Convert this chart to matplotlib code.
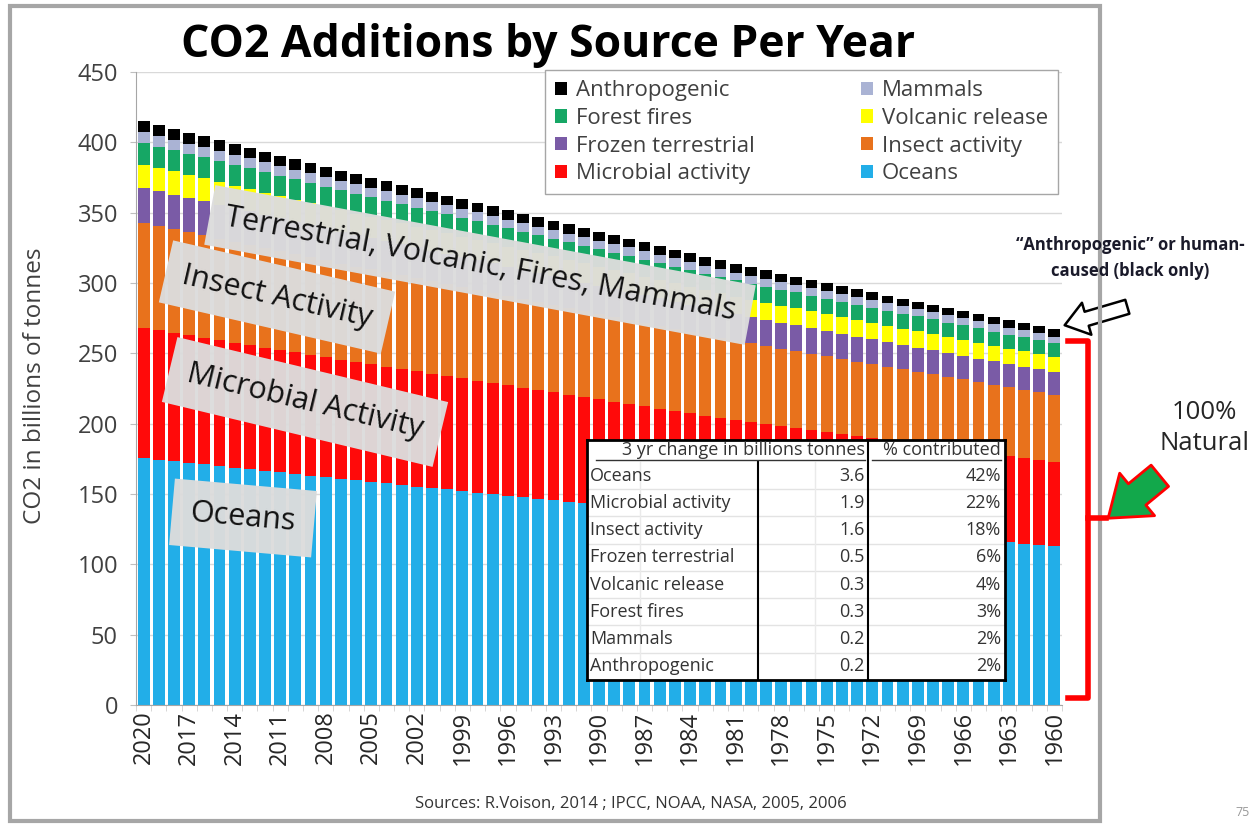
import numpy as np
import matplotlib.pyplot as plt
from matplotlib.patches import Rectangle, FancyArrowPatch
from matplotlib.lines import Line2D

plt.rcParams['font.family'] = ['Open Sans', 'DejaVu Sans']

W, H = 1253, 825

# Data (billions of tonnes), years run 2020 -> 1960
years = list(range(2020, 1959, -1))

oceans = [175.5, 174.4, 173.3, 172.1, 171.0, 169.8, 168.7, 167.6, 166.4, 165.3,
          164.1, 163.0, 161.8, 160.7, 159.6, 158.6, 157.5, 156.4, 155.3, 154.2,
          153.2, 152.1, 151.0, 149.9, 148.8, 147.8, 146.7, 145.6, 144.5, 143.4,
          142.3, 141.2, 140.2, 139.1, 138.0, 136.9, 135.8, 134.8, 133.7, 132.6,
          131.6, 130.6, 129.7, 128.8, 127.8, 126.9, 126.0, 125.0, 124.1, 123.2,
          122.2, 121.3, 120.4, 119.5, 118.5, 117.6, 116.7, 115.7, 114.8, 113.9,
          112.9]
microbial = [92.5, 91.9, 91.3, 90.7, 90.1, 89.5, 88.9, 88.3, 87.7, 87.1,
             86.5, 85.9, 85.3, 84.7, 84.2, 83.6, 83.0, 82.5, 81.9, 81.3,
             80.7, 80.2, 79.6, 79.0, 78.5, 77.9, 77.3, 76.8, 76.2, 75.6,
             75.0, 74.5, 73.9, 73.3, 72.7, 72.2, 71.6, 71.0, 70.5, 69.9,
             69.4, 68.9, 68.4, 67.9, 67.4, 66.9, 66.4, 65.9, 65.4, 64.9,
             64.4, 64.0, 63.5, 63.0, 62.5, 62.0, 61.5, 61.0, 60.5, 60.0,
             59.5]
insect = [74.7, 74.2, 73.7, 73.2, 72.8, 72.3, 71.8, 71.3, 70.8, 70.3,
          69.8, 69.4, 68.9, 68.4, 67.9, 67.5, 67.0, 66.6, 66.1, 65.6,
          65.2, 64.7, 64.3, 63.8, 63.3, 62.9, 62.4, 62.0, 61.5, 61.0,
          60.6, 60.1, 59.7, 59.2, 58.7, 58.3, 57.8, 57.3, 56.9, 56.4,
          56.0, 55.6, 55.2, 54.8, 54.4, 54.0, 53.6, 53.2, 52.8, 52.4,
          52.0, 51.6, 51.2, 50.8, 50.4, 50.0, 49.6, 49.2, 48.9, 48.5,
          48.1]
frozen = [24.9, 24.7, 24.6, 24.4, 24.3, 24.1, 23.9, 23.8, 23.6, 23.4,
          23.3, 23.1, 23.0, 22.8, 22.6, 22.5, 22.3, 22.2, 22.0, 21.9,
          21.7, 21.6, 21.4, 21.3, 21.1, 21.0, 20.8, 20.7, 20.5, 20.3,
          20.2, 20.0, 19.9, 19.7, 19.6, 19.4, 19.3, 19.1, 19.0, 18.8,
          18.7, 18.5, 18.4, 18.3, 18.1, 18.0, 17.9, 17.7, 17.6, 17.5,
          17.3, 17.2, 17.1, 16.9, 16.8, 16.7, 16.5, 16.4, 16.3, 16.2,
          16.0]
volcanic = [16.6, 16.5, 16.4, 16.3, 16.2, 16.1, 16.0, 15.8, 15.7, 15.6,
            15.5, 15.4, 15.3, 15.2, 15.1, 15.0, 14.9, 14.8, 14.7, 14.6,
            14.5, 14.4, 14.3, 14.2, 14.1, 14.0, 13.9, 13.8, 13.7, 13.6,
            13.5, 13.4, 13.3, 13.2, 13.0, 12.9, 12.8, 12.7, 12.6, 12.5,
            12.4, 12.4, 12.3, 12.2, 12.1, 12.0, 11.9, 11.8, 11.7, 11.6,
            11.6, 11.5, 11.4, 11.3, 11.2, 11.1, 11.0, 10.9, 10.9, 10.8,
            10.7]
fires = [15.4, 15.3, 15.2, 15.1, 15.0, 14.9, 14.8, 14.7, 14.6, 14.5,
         14.4, 14.3, 14.2, 14.1, 14.0, 13.9, 13.8, 13.7, 13.6, 13.5,
         13.4, 13.3, 13.2, 13.1, 13.0, 12.9, 12.8, 12.7, 12.6, 12.5,
         12.5, 12.4, 12.3, 12.2, 12.1, 12.0, 11.9, 11.8, 11.7, 11.6,
         11.5, 11.4, 11.3, 11.3, 11.2, 11.1, 11.0, 10.9, 10.9, 10.8,
         10.7, 10.6, 10.5, 10.4, 10.4, 10.3, 10.2, 10.1, 10.0, 10.0,
         9.9]
mammals = [7.5, 7.4, 7.4, 7.3, 7.3, 7.2, 7.2, 7.1, 7.1, 7.0,
           7.0, 6.9, 6.9, 6.8, 6.8, 6.7, 6.7, 6.7, 6.6, 6.6,
           6.5, 6.5, 6.4, 6.4, 6.3, 6.3, 6.2, 6.2, 6.1, 6.1,
           6.1, 6.0, 6.0, 5.9, 5.9, 5.8, 5.8, 5.7, 5.7, 5.6,
           5.6, 5.6, 5.5, 5.5, 5.4, 5.4, 5.4, 5.3, 5.3, 5.2,
           5.2, 5.2, 5.1, 5.1, 5.0, 5.0, 5.0, 4.9, 4.9, 4.8,
           4.8]
anthropogenic = [7.9, 7.8, 7.8, 7.7, 7.7, 7.6, 7.6, 7.5, 7.5, 7.4,
                 7.4, 7.3, 7.3, 7.2, 7.2, 7.1, 7.1, 7.0, 7.0, 6.9,
                 6.9, 6.8, 6.8, 6.7, 6.7, 6.6, 6.6, 6.5, 6.5, 6.4,
                 6.4, 6.3, 6.3, 6.2, 6.2, 6.2, 6.1, 6.1, 6.0, 6.0,
                 5.9, 5.9, 5.8, 5.8, 5.7, 5.7, 5.7, 5.6, 5.6, 5.5,
                 5.5, 5.4, 5.4, 5.4, 5.3, 5.3, 5.2, 5.2, 5.2, 5.1,
                 5.1]

# inset table
table_sources = ['Oceans', 'Microbial activity', 'Insect activity', 'Frozen terrestrial',
                 'Volcanic release', 'Forest fires', 'Mammals', 'Anthropogenic']
table_change = ['3.6', '1.9', '1.6', '0.5', '0.3', '0.3', '0.2', '0.2']
table_pct = ['42%', '22%', '18%', '6%', '4%', '3%', '2%', '2%']

# stacked bottom -> top
series = [
    ('Oceans', oceans, '#22AEE8'),
    ('Microbial activity', microbial, '#FF0A0A'),
    ('Insect activity', insect, '#E8721C'),
    ('Frozen terrestrial', frozen, '#7A5BA6'),
    ('Volcanic release', volcanic, '#FFFF00'),
    ('Forest fires', fires, '#16A765'),
    ('Mammals', mammals, '#AAB3D4'),
    ('Anthropogenic', anthropogenic, '#000000'),
]


def fx(px):
    return px / W


def fy(py):
    return 1 - py / H


fig = plt.figure(figsize=(W / 100, H / 100), dpi=100)
ax = fig.add_axes([fx(136), fy(705), fx(1062) - fx(136), fy(72) - fy(705)])

x = np.arange(len(years))
bottom = np.zeros(len(years))
bars = {}
for name, vals, color in series:
    bars[name] = ax.bar(x, vals, 0.78, bottom=bottom, color=color, label=name, zorder=2)
    bottom += np.array(vals)

ax.set_xlim(-0.5, len(years) - 0.5)
ax.set_ylim(0, 450)
ax.set_yticks(range(0, 451, 50))
ax.set_xticks(x[::3])
ax.set_xticklabels([str(y) for y in years[::3]], rotation=90)
ax.set_xticks(np.arange(-0.5, len(years), 1), minor=True)
ax.tick_params(axis='y', labelsize=17, colors='#404040', pad=9, length=4, color='#BFBFBF')
ax.tick_params(axis='x', which='major', labelsize=17, colors='#262626', pad=4, length=0)
ax.tick_params(axis='x', which='minor', length=4, color='#D0D0D0')
ax.grid(axis='y', color='#D9D9D9', lw=1, zorder=0)
ax.set_axisbelow(True)
for s in ['top', 'right']:
    ax.spines[s].set_visible(False)
ax.spines['left'].set_color('#A6A6A6')
ax.spines['bottom'].set_color('#A6A6A6')

order = ['Anthropogenic', 'Forest fires', 'Frozen terrestrial', 'Microbial activity',
         'Mammals', 'Volcanic release', 'Insect activity', 'Oceans']
leg = ax.legend([bars[n] for n in order], order, ncol=2, loc='upper left',
                bbox_to_anchor=(0.4417, 0.8057, 0.554, 0.197), mode='expand', borderaxespad=0,
                fontsize=16, frameon=True, fancybox=False,
                edgecolor='#A6A6A6', framealpha=1, handlelength=0.55, handleheight=0.55,
                handletextpad=0.4, columnspacing=1.5, labelspacing=0.3, borderpad=0.45)
for t in leg.get_texts():
    t.set_color('#404040')

# grey call-out labels over the bars
def callout(px, py, text, angle, size, pad):
    fig.text(fx(px), fy(py), text, rotation=angle, rotation_mode='anchor', ha='center',
             va='center', fontsize=size, color='#111111',
             bbox=dict(boxstyle='square,pad=%.2f' % pad, fc='#DCDCDC', ec='none', alpha=0.97))


callout(480, 265, 'Terrestrial, Volcanic, Fires, Mammals', -10.5, 22, 0.5)
callout(277, 297, 'Insect Activity', -13, 22, 0.55)
callout(305, 402, 'Microbial Activity', -13.5, 22, 0.6)
callout(243, 518, 'Oceans', -5, 22, 0.6)

# inset table, drawn in pixel coordinates
tab = fig.add_axes([fx(587), fy(680), fx(1005) - fx(587), fy(440) - fy(680)], zorder=5)
tab.set_xlim(587, 1005)
tab.set_ylim(680, 440)
tab.set_xticks([])
tab.set_yticks([])
tab.set_facecolor('white')
for s in tab.spines.values():
    s.set_linewidth(2)
    s.set_color('black')
row_h = (680 - 462) / len(table_sources)
for i in range(1, len(table_sources)):
    tab.plot([587, 1005], [462 + i * row_h] * 2, color='#E3E3E3', lw=1)
tab.plot([640, 640], [462, 680], color='#EAEAEA', lw=1)
tab.plot([815, 815], [462, 680], color='#EAEAEA', lw=1)
tab.plot([758, 758], [462, 680], color='black', lw=1.5)
tab.plot([868, 868], [440, 680], color='black', lw=1.5)
tab.text(865, 450, '3 yr change in billions tonnes', ha='right', va='center', fontsize=13,
         color='#333333')
tab.plot([596, 865], [460, 460], color='#333333', lw=1)
tab.text(1001, 450, '% contributed', ha='right', va='center', fontsize=13, color='#333333')
tab.plot([872, 1001], [460, 460], color='#333333', lw=1)
for i, (src, chg, pct) in enumerate(zip(table_sources, table_change, table_pct)):
    yc = 462 + (i + 0.5) * row_h
    tab.text(590, yc, src, ha='left', va='center', fontsize=13, color='#333333')
    tab.text(865, yc, chg, ha='right', va='center', fontsize=13, color='#333333')
    tab.text(1001, yc, pct, ha='right', va='center', fontsize=13, color='#333333')

# title, axis label, sources
fig.text(fx(548), fy(46), 'CO2 Additions by Source Per Year', ha='center', va='center',
         fontsize=32, fontweight='bold', color='black')
fig.text(fx(35), fy(386), 'CO2 in billions of tonnes', rotation=90, ha='center', va='center',
         fontsize=17.5, color='#404040')
fig.text(fx(631), fy(804), 'Sources: R.Voison, 2014 ; IPCC, NOAA, NASA, 2005, 2006',
         ha='center', va='center', fontsize=12, color='#333333')
fig.text(fx(1243), fy(813), '75', ha='center', va='center', fontsize=9, color='#999999')

# right-hand annotations
fig.text(fx(1130), fy(258), '\u201cAnthropogenic\u201d or human-\ncaused (black only)', ha='center',
         va='center', fontsize=12, fontweight='bold', color='#1A1A2A', linespacing=1.5)
fig.add_artist(FancyArrowPatch((fx(1130), fy(306)), (fx(1062), fy(326)), transform=fig.transFigure,
                               arrowstyle='simple,head_width=1.6,head_length=1.1,tail_width=0.7',
                               mutation_scale=15, fc='white', ec='black', lw=1.8))
fig.add_artist(Line2D([fx(1068), fx(1088), fx(1088), fx(1068)], [fy(341), fy(341), fy(698), fy(698)],
                      transform=fig.transFigure, color='red', lw=4))
fig.add_artist(Line2D([fx(1088), fx(1106)], [fy(518), fy(518)], transform=fig.transFigure,
                      color='red', lw=4))
fig.add_artist(FancyArrowPatch((fx(1162), fy(474)), (fx(1106), fy(520)), transform=fig.transFigure,
                               arrowstyle='simple,head_width=2.2,head_length=1.5,tail_width=1.1',
                               mutation_scale=18, fc='#12A84B', ec='red', lw=2))
fig.text(fx(1204), fy(428), '100%\nNatural', ha='center', va='center', fontsize=18.5,
         color='#262626', linespacing=1.3)

# slide frame
fig.add_artist(Rectangle((fx(10), fy(821)), fx(1100) - fx(10), fy(6) - fy(821),
                         transform=fig.transFigure, fill=False, ec='#A6A6A6', lw=3))

fig.savefig('out.png', dpi=100)
